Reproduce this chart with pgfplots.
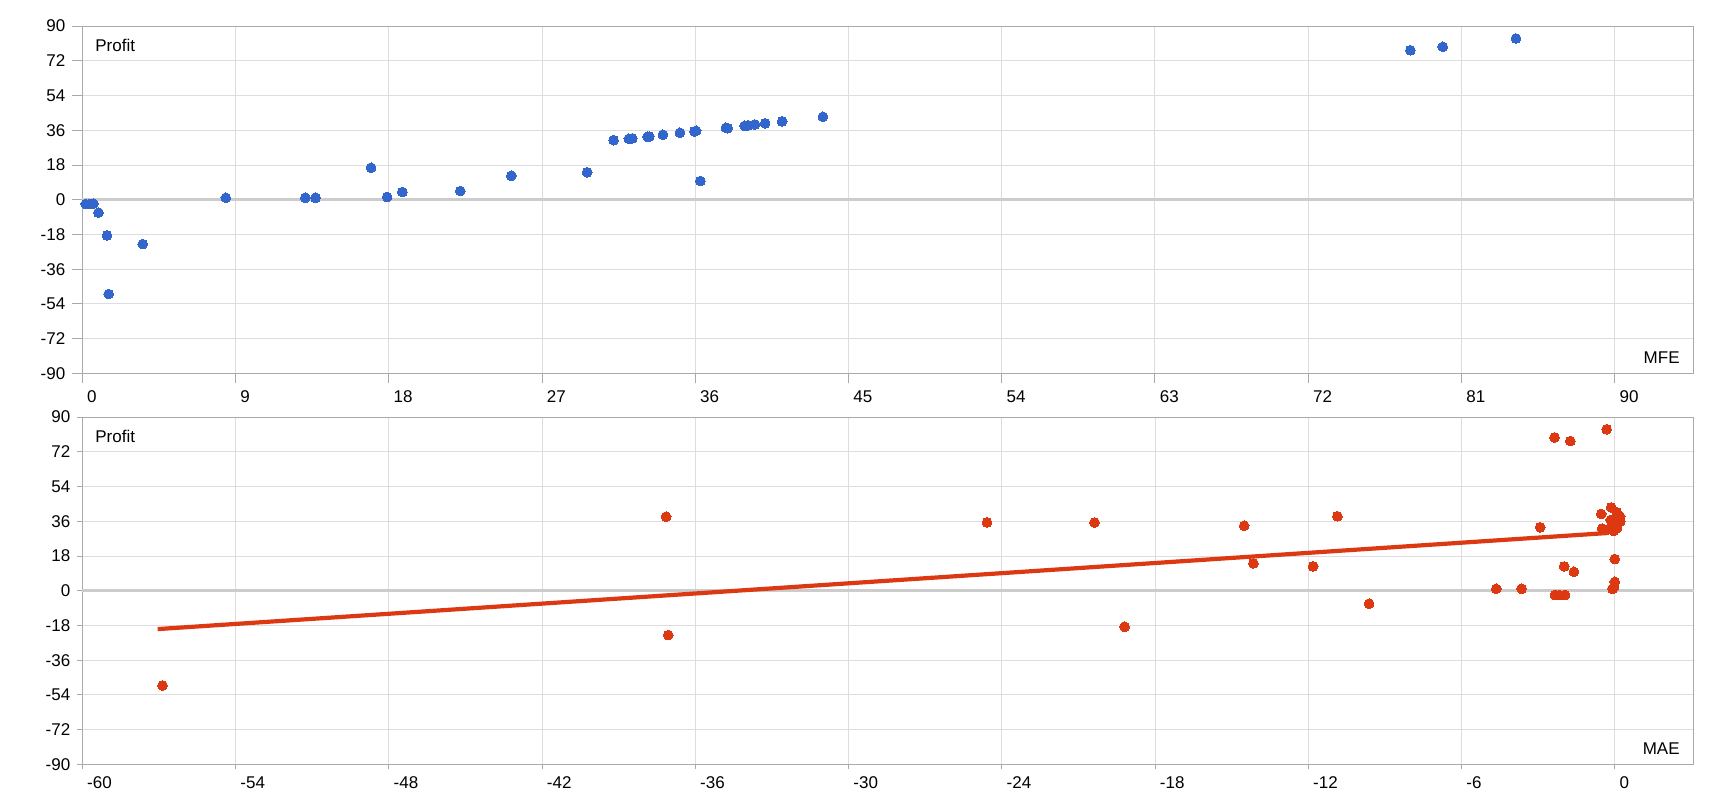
\documentclass[border=0pt]{standalone}
\usepackage{fontspec}
\setmainfont{Liberation Sans}
\usepackage{pgfplots}
\pgfplotsset{compat=1.18}
\definecolor{gridc}{HTML}{DDDDDD}
\definecolor{axisc}{HTML}{AAAAAA}
\definecolor{zeroc}{HTML}{CCCCCC}
\definecolor{blueS}{HTML}{3366CC}
\definecolor{redS}{HTML}{DC3912}
\newcommand{\lbl}{\fontsize{8.5pt}{10pt}\selectfont}
\pgfplotsset{
  base/.style={
    scale only axis, width=805.7pt, height=173.6pt,
    anchor=south west,
    ymin=-90, ymax=90, ytick={-90,-72,...,90},
    axis line style={axisc, line width=0.5pt},
    grid=major, major grid style={gridc, line width=0.5pt},
    tick style={axisc, line width=0.5pt},
    tick align=outside, xtick pos=lower, ytick pos=left,
    /pgf/number format/assume math mode=true,
    tick label style={font=\lbl},
    yticklabel style={anchor=east},
    xticklabel style={anchor=north west, xshift=-1.1pt},
    clip=false,
  }
}
\begin{document}
\begin{tikzpicture}
\path[use as bounding box] (0,0) rectangle (860pt,400pt);
% top: MFE
\begin{axis}[base, at={(41.15pt,213.35pt)},
  xmin=0, xmax=94.64, xtick={0,9,...,90}, major tick length=5pt]
  \addplot[zeroc, line width=1.3pt, forget plot] coordinates {(0,0) (94.64,0)};
  \addplot[only marks, mark=*, mark size=2.45pt, mark options={fill=blueS, draw=blueS, line width=0pt}]
  coordinates {
  (0.2,-2.2) (0.45,-2.2) (0.65,-2.1) (0.95,-6.7) (1.45,-18.5) (1.55,-48.9)
  (3.55,-23.0) (8.43,1.0) (13.1,1.0) (13.7,1.0) (16.96,16.6) (17.9,1.4)
  (18.8,4.0) (22.2,4.5) (25.2,12.4) (29.65,14.2) (31.2,30.9) (32.1,31.6)
  (32.3,31.8) (33.2,32.6) (33.3,32.8) (34.1,33.7) (35.1,34.7) (35.95,35.4)
  (36.05,35.7) (36.3,9.7) (37.8,37.3) (37.9,37.1) (38.9,38.3) (39.1,38.5)
  (39.5,39.0) (40.1,39.6) (41.1,40.6) (43.5,43.0) (78.0,77.5) (79.9,79.3)
  (84.2,83.6)
  };
  \node[anchor=base west, inner sep=0, font=\lbl, xshift=6.35pt, yshift=-12.5pt] at (rel axis cs:0,1) {Profit};
  \node[anchor=base east, inner sep=0, font=\lbl, xshift=-6.85pt, yshift=5pt] at (rel axis cs:1,0) {MFE};
\end{axis}
% bottom: MAE
\begin{axis}[base, at={(41.15pt,17.85pt)},
  xmin=-60, xmax=3.09, xtick={-60,-54,...,0}, major tick length=2.5pt]
  \addplot[zeroc, line width=1.3pt, forget plot] coordinates {(-60,0) (3.09,0)};
  \addplot[only marks, mark=*, mark size=2.45pt, mark options={fill=redS, draw=redS, line width=0pt}]
  coordinates {
  (-56.86,-49.1) (-37.14,38.4) (-37.06,-23.0) (-24.58,35.4) (-20.37,35.4)
  (-19.19,-18.7) (-14.51,33.7) (-14.15,14.2) (-11.81,12.6) (-10.86,38.6)
  (-9.62,-6.7) (-4.64,1.0) (-3.65,1.0) (-2.92,32.9) (-2.36,79.5) (-1.74,77.6)
  (-0.32,83.7) (-2.34,-2.2) (-2.17,-2.2) (-1.95,-2.2) (-1.98,12.6) (-1.6,9.8)
  (0,16.4) (0,4.6) (-0.09,1.0) (-0.03,2.0)
  (-0.14,43.2) (-0.53,39.8) (0.08,40.6) (0.21,38.4) (0.2,37.0) (0.21,35.8)
  (-0.04,35.0) (-0.16,36.7) (-0.5,32.2) (-0.26,31.9) (0.08,32.4) (-0.04,31.0)
  (0.1,34.0)
  };
  \addplot[redS, line width=2.1pt] coordinates {(-57.05,-19.9) (-0.3,29.9)};
  \node[anchor=base west, inner sep=0, font=\lbl, xshift=6.35pt, yshift=-12.5pt] at (rel axis cs:0,1) {Profit};
  \node[anchor=base east, inner sep=0, font=\lbl, xshift=-6.85pt, yshift=5.15pt] at (rel axis cs:1,0) {MAE};
\end{axis}
\end{tikzpicture}
\end{document}
